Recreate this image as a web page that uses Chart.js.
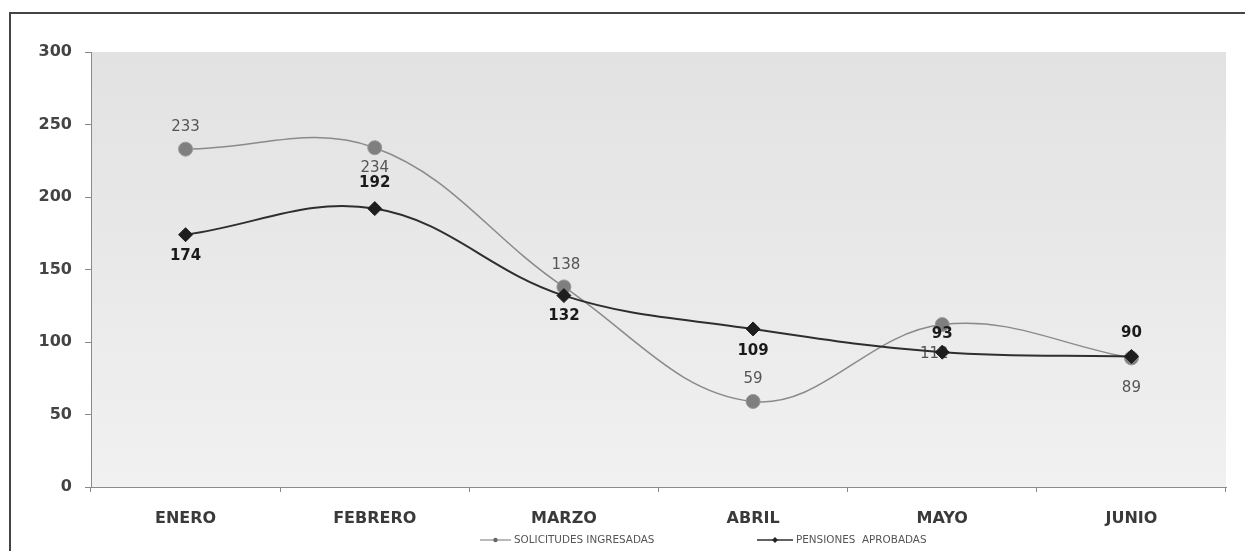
<!DOCTYPE html>
<html>
<head>
<meta charset="utf-8">
<script src="https://cdn.jsdelivr.net/npm/chart.js@4"></script>
<style>
  html, body { margin: 0; padding: 0; background: #fff; }
  #wrap { width: 1245px; height: 551px; position: relative; }
</style>
</head>
<body>
<div id="wrap"><canvas id="c" width="1245" height="551"></canvas></div>
<script>
// ---- data ----
const categories = ['ENERO', 'FEBRERO', 'MARZO', 'ABRIL', 'MAYO', 'JUNIO'];
const solicitudes = [233, 234, 138, 59, 112, 89];
const pensiones = [174, 192, 132, 109, 93, 90];
const seriesNames = ['SOLICITUDES INGRESADAS', 'PENSIONES  APROBADAS'];
const yTicks = [0, 50, 100, 150, 200, 250, 300];

// label offsets (px) per point, per dataset (style only)
const labelOffsetsY = [
  [-22, 20, -22, -22, 30, 30],
  [21, -25, 21, 22, -18, -23]
];
const labelOffsetsX = [
  [0, 0, 2, 0, -8, 0],
  [0, 0, 0, 0, 0, 0]
];
const labelFonts = ['15px "DejaVu Sans"', 'bold 15px "DejaVu Sans"'];
const labelColors = ['#555', '#1a1a1a'];

const framePlugin = {
  id: 'frame',
  beforeDraw(chart) {
    const ctx = chart.ctx, a = chart.chartArea;
    ctx.save();
    ctx.fillStyle = '#fff';
    ctx.fillRect(0, 0, chart.width, chart.height);
    const g = ctx.createLinearGradient(0, a.top, 0, a.bottom);
    g.addColorStop(0, '#e2e2e2');
    g.addColorStop(0.5, '#e9e9e9');
    g.addColorStop(1, '#f1f1f1');
    ctx.fillStyle = g;
    ctx.fillRect(a.left, a.top, a.right - a.left, a.bottom - a.top);
    ctx.strokeStyle = '#444';
    ctx.lineWidth = 2;
    ctx.beginPath();
    ctx.moveTo(10, chart.height);
    ctx.lineTo(10, 13);
    ctx.lineTo(chart.width, 13);
    ctx.stroke();
    ctx.restore();
  },
  afterDatasetDraw(chart, args) {
    const i = args.index;
    const meta = chart.getDatasetMeta(i);
    const ds = chart.data.datasets[i];
    const ctx = chart.ctx;
    ctx.save();
    ctx.font = labelFonts[i];
    ctx.fillStyle = labelColors[i];
    ctx.textAlign = 'center';
    ctx.textBaseline = 'middle';
    meta.data.forEach((pt, j) => {
      ctx.fillText(String(ds.data[j]), pt.x + labelOffsetsX[i][j], pt.y + labelOffsetsY[i][j]);
    });
    ctx.restore();
  },
  afterDraw(chart) {
    const ctx = chart.ctx;
    const items = [
      { x0: 480, x1: 511, y: 540, ds: chart.data.datasets[0], shape: 'circle' },
      { x0: 757, x1: 793, y: 540, ds: chart.data.datasets[1], shape: 'diamond' }
    ];
    ctx.save();
    items.forEach(it => {
      ctx.strokeStyle = it.ds.borderColor;
      ctx.lineWidth = it.shape === 'circle' ? 1.2 : 1.6;
      ctx.beginPath();
      ctx.moveTo(it.x0, it.y);
      ctx.lineTo(it.x1, it.y);
      ctx.stroke();
      const mx = (it.x0 + it.x1) / 2;
      ctx.fillStyle = it.shape === 'circle' ? '#666' : '#222';
      ctx.beginPath();
      if (it.shape === 'circle') {
        ctx.arc(mx, it.y, 2.2, 0, Math.PI * 2);
      } else {
        ctx.moveTo(mx, it.y - 3); ctx.lineTo(mx + 3, it.y);
        ctx.lineTo(mx, it.y + 3); ctx.lineTo(mx - 3, it.y); ctx.closePath();
      }
      ctx.fill();
      ctx.font = '10.4px "DejaVu Sans"';
      ctx.fillStyle = '#555';
      ctx.textAlign = 'left';
      ctx.textBaseline = 'middle';
      ctx.fillText(it.ds.label, it.x1 + 3, it.y);
    });
    ctx.restore();
  }
};

new Chart(document.getElementById('c'), {
  type: 'line',
  data: {
    labels: categories,
    datasets: [
      {
        label: seriesNames[0],
        data: solicitudes,
        order: 2,
        borderColor: '#8a8a8a',
        borderWidth: 1.5,
        tension: 0.38,
        pointStyle: 'circle',
        pointRadius: 7,
        pointBackgroundColor: '#7f7f7f',
        pointBorderColor: '#9a9a9a',
        pointBorderWidth: 1,
        fill: false
      },
      {
        label: seriesNames[1],
        data: pensiones,
        order: 1,
        borderColor: '#2e2e2e',
        borderWidth: 2,
        tension: 0.38,
        pointStyle: 'rectRot',
        pointRadius: 7,
        pointBackgroundColor: '#1e1e1e',
        pointBorderColor: '#1e1e1e',
        pointBorderWidth: 1,
        fill: false
      }
    ]
  },
  options: {
    responsive: false,
    animation: false,
    devicePixelRatio: 1,
    layout: { padding: { top: 52, right: 19, bottom: 0, left: 0 } },
    plugins: { legend: { display: false }, tooltip: { enabled: false } },
    scales: {
      x: {
        offset: true,
        grid: { offset: true, drawOnChartArea: false, tickLength: 5, color: '#8a8a8a' },
        border: { color: '#8a8a8a', width: 1 },
        ticks: { color: '#3a3a3a', font: { family: 'DejaVu Sans', size: 16, weight: 'bold' }, padding: 17, maxRotation: 0 },
        afterFit(s) { s.height = 64; }
      },
      y: {
        min: 0, max: 300,
        afterBuildTicks(s) { s.ticks = yTicks.map(v => ({ value: v })); },
        grid: { drawOnChartArea: false, tickLength: 6, color: '#8a8a8a' },
        border: { color: '#8a8a8a', width: 1 },
        ticks: { color: '#444', font: { family: 'DejaVu Sans', size: 16, weight: 'bold' }, padding: 13 },
        afterFit(s) { s.width = 91; }
      }
    }
  },
  plugins: [framePlugin]
});
</script>
</body>
</html>
